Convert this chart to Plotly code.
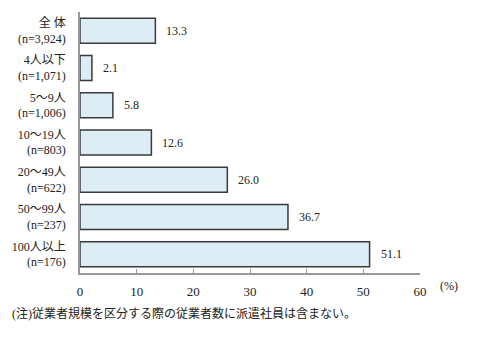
import plotly.graph_objects as go

categories = ["全 体<br>(n=3,924)", "4人以下<br>(n=1,071)", "5～9人<br>(n=1,006)",
              "10～19人<br>(n=803)", "20～49人<br>(n=622)", "50～99人<br>(n=237)",
              "100人以上<br>(n=176)"]
values = [13.3, 2.1, 5.8, 12.6, 26.0, 36.7, 51.1]
x_ticks = [0, 10, 20, 30, 40, 50, 60]

FONT = "Liberation Serif, 'Noto Sans CJK JP', serif"

fig = go.Figure()
fig.add_trace(go.Bar(
    x=values, y=categories, orientation="h",
    width=0.67,
    marker=dict(color="#DDEDF5", line=dict(color="#3a3a3a", width=1.5)),
    hoverinfo="skip",
))

# value labels to the right of each bar
for v, c in zip(values, categories):
    fig.add_annotation(x=v, y=c, text=f"{v:.1f}", showarrow=False,
                       xanchor="left", xshift=9, font=dict(size=12, color="#222", family=FONT))

fig.add_annotation(x=1.0, y=0, xref="paper", yref="paper", text="(%)",
                   showarrow=False, xanchor="left", yanchor="top", xshift=18, yshift=-4,
                   font=dict(size=12, color="#222", family=FONT))
fig.add_annotation(x=5, y=339 - 313, xref="paper", yref="paper", text="(注)従業者規模を区分する際の従業者数に派遣社員は含まない。",
                   showarrow=False, xanchor="left", yanchor="middle",
                   font=dict(size=12, color="#222", family=FONT))

fig.update_layout(
    width=482, height=339,
    margin=dict(l=76, r=62, t=12, b=66),
    paper_bgcolor="white", plot_bgcolor="white",
    showlegend=False, bargap=0.33,
    font=dict(family=FONT, size=12, color="#222"),
    xaxis=dict(range=[0, 60], tickvals=x_ticks, ticks="inside", ticklen=4,
               tickcolor="#999", showline=True, linecolor="#999", linewidth=1.5,
               showgrid=False, zeroline=False, ticklabelstandoff=6,
               tickfont=dict(size=13, family=FONT)),
    yaxis=dict(autorange="reversed", showline=True, linecolor="#999", linewidth=1.5,
               showgrid=False, ticks="", ticklabelstandoff=10,
               tickfont=dict(size=12, family=FONT)),
)

# footnote placed in pixel terms relative to the figure
fig.layout.annotations[-1].update(xref="paper", yref="paper",
                                  x=(5 - 76) / (482 - 76 - 62),
                                  y=-(313 - 273) / (339 - 12 - 66))

fig.write_html("out.html")
